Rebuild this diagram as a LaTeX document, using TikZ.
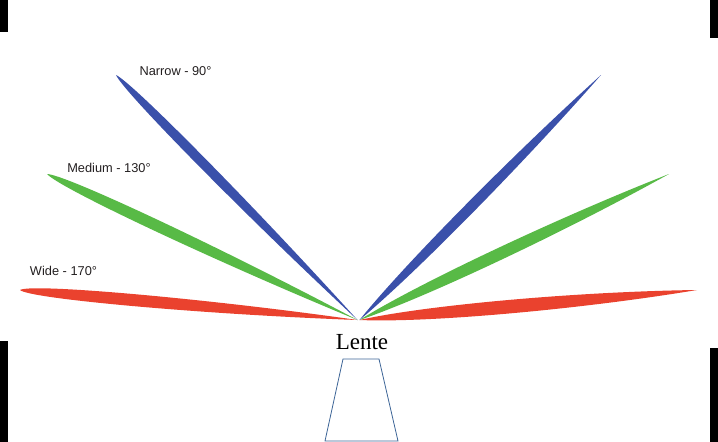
\documentclass[tikz,border=0pt]{standalone}
\usepackage{fontspec}
\setmainfont{Liberation Serif}
\newfontfamily\labelfont{Liberation Sans}
\usetikzlibrary{calc}
\definecolor{bladeblue}{RGB}{58,80,170}
\definecolor{bladegreen}{RGB}{88,186,70}
\definecolor{bladered}{RGB}{234,66,46}
\definecolor{lenseline}{RGB}{60,100,150}
\definecolor{labeltext}{RGB}{35,31,32}
\newcommand\bladeshape[6]{%
  \fill[#1] (#2) .. controls ($(#2)!#4!(#3)!#6!90:(#3)$) and ($(#2)!#5!(#3)!#6!90:(#3)$) .. (#3)
    .. controls ($(#2)!#5!(#3)!#6!-90:(#3)$) and ($(#2)!#4!(#3)!#6!-90:(#3)$) .. (#2) -- cycle;}
\begin{document}
\begin{tikzpicture}[x=1pt,y=-1pt,
  anglelabel/.style={font=\labelfont\fontsize{12.8}{15}\selectfont, text=labeltext, inner sep=0pt},
  blackbar/.style={fill=black}]
\useasboundingbox (0,0) rectangle (718,442);
% black bars at the edges
\fill[blackbar] (0,0) rectangle (8,32);
\fill[blackbar] (710,0) rectangle (718,38);
\fill[blackbar] (0,341) rectangle (8,442);
\fill[blackbar] (710,348) rectangle (718,442);
% convergence points
\coordinate (cl) at (357.5,320);
\coordinate (cr) at (359.5,320);
% blade ends
\coordinate (bl) at (116,75);
\coordinate (gl) at (47,174);
\coordinate (rl) at (20,290);
\coordinate (br) at (601,75);
\coordinate (gr) at (669,174);
\coordinate (rr) at (697,290);
% blades
\bladeshape{bladered}{cl}{rl}{0.45}{0.97}{8pt}
\bladeshape{bladegreen}{cl}{gl}{0.45}{0.95}{7.5pt}
\bladeshape{bladeblue}{cl}{bl}{0.45}{0.95}{6.5pt}
\bladeshape{bladered}{cr}{rr}{0.2}{0.65}{9pt}
\bladeshape{bladegreen}{cr}{gr}{0.2}{0.65}{8pt}
\bladeshape{bladeblue}{cr}{br}{0.2}{0.65}{7pt}
% labels
\node[anglelabel] (narrow) at (175.5,71) {Narrow - 90°};
\node[anglelabel] (medium) at (109,168) {Medium - 130°};
\node[anglelabel] (wide) at (63.5,271) {Wide - 170°};
\node[font=\fontsize{23}{26}\selectfont, inner sep=0pt] (lente) at (362,342) {Lente};
% lens
\draw[lenseline, line width=0.8pt] (343,359) -- (379,359) -- (398,441) -- (325,441) -- cycle;
\end{tikzpicture}
\end{document}
